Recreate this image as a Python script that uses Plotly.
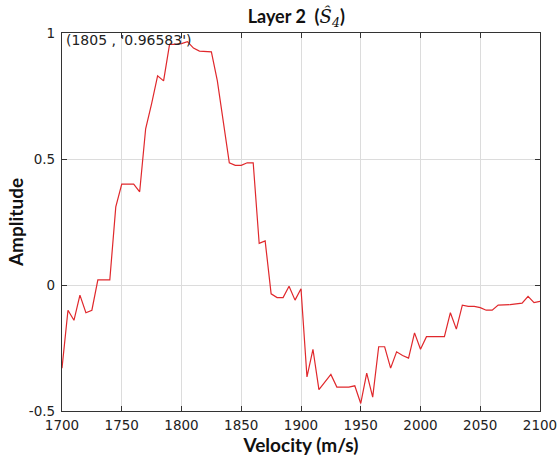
import plotly.graph_objects as go

velocity = list(range(1700, 2101, 5))
amplitude = [
    -0.33, -0.10, -0.14, -0.04, -0.11, -0.10, 0.02, 0.02, 0.02, 0.31,
    0.40, 0.40, 0.40, 0.37, 0.62, 0.72, 0.83, 0.81, 0.955, 0.955,
    0.958, 0.96583, 0.94, 0.928, 0.926, 0.925, 0.81, 0.64, 0.485, 0.475,
    0.475, 0.485, 0.485, 0.165, 0.175, -0.035, -0.05, -0.05, -0.005, -0.06,
    -0.015, -0.365, -0.255, -0.415, -0.385, -0.355, -0.405, -0.405, -0.405, -0.40,
    -0.47, -0.35, -0.445, -0.245, -0.245, -0.33, -0.265, -0.28, -0.29, -0.19,
    -0.255, -0.205, -0.205, -0.205, -0.205, -0.11, -0.175, -0.08, -0.085, -0.085,
    -0.09, -0.10, -0.10, -0.08, -0.08, -0.078, -0.075, -0.072, -0.045, -0.07,
    -0.065,
]
x_ticks = [1700, 1750, 1800, 1850, 1900, 1950, 2000, 2050, 2100]
y_ticks = [-0.5, 0, 0.5, 1]
y_tick_text = ["-0.5", "0", "0.5", "1"]
peak_v = 1805
peak_a = 0.96583

TITLE_FONT = "Lato, 'Open Sans', sans-serif"
TICK_FONT = "DejaVu Sans, sans-serif"

fig = go.Figure()
fig.add_trace(go.Scatter(x=velocity, y=amplitude, mode="lines",
                         line=dict(color="#e0282c", width=1.2),
                         showlegend=False, hoverinfo="x+y"))

fig.add_annotation(x=1700, y=1, xref="x", yref="y",
                   text=f"({peak_v} , '{peak_a}')", showarrow=False,
                   xanchor="left", yanchor="middle", xshift=2, yshift=-7,
                   font=dict(family=TICK_FONT, size=14, color="#222"))

axis_common = dict(showline=True, linecolor="#333", linewidth=1.3, mirror="ticks",
                   ticks="inside", ticklen=5, tickcolor="#333", automargin=False,
                   showgrid=True, gridcolor="#dcdcdc", gridwidth=1,
                   zeroline=False, tickfont=dict(family=TICK_FONT, size=13.5, color="#222"))

fig.update_xaxes(range=[1700, 2100], tickvals=x_ticks, ticklabelstandoff=2,
                 title=dict(text="<b>Velocity (m/s)</b>", font=dict(family=TITLE_FONT, size=19, color="#111"), standoff=1),
                 **axis_common)
fig.update_yaxes(range=[-0.5, 1], tickvals=y_ticks, ticktext=y_tick_text, ticklabelstandoff=3,
                 title=dict(text="<b>Amplitude</b>", font=dict(family=TITLE_FONT, size=19, color="#111"), standoff=0),
                 **axis_common)

title_text = ("<b>Layer 2  (</b><span style='font-family:\"DejaVu Serif\", serif'>"
              "<i>Ŝ</i><sub><i>4</i></sub></span><b>)</b>")

fig.update_layout(
    width=559, height=457,
    margin=dict(l=62, r=19, t=33, b=46, autoexpand=False),
    paper_bgcolor="white", plot_bgcolor="white",
    title=dict(text=title_text, x=0.53, xanchor="center",
               y=1 - 17 / 457, yanchor="middle", font=dict(family=TITLE_FONT, size=18, color="#111")),
)

fig.write_html("out.html", config={"displayModeBar": False},
               post_script="document.body.style.margin='0';")
